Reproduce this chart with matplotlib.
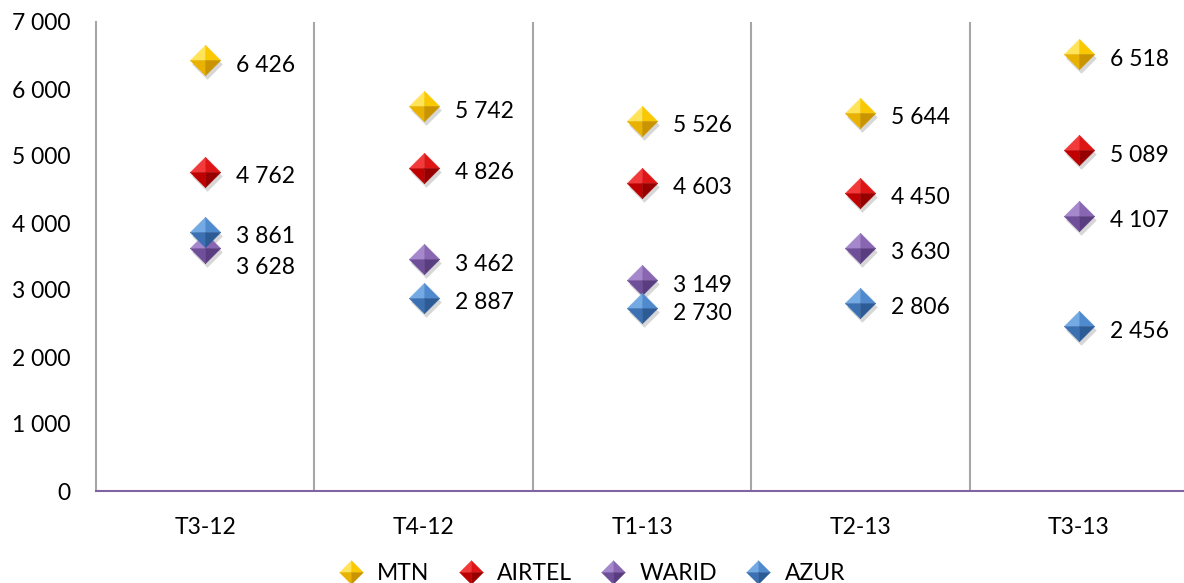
import matplotlib
matplotlib.use("Agg")
import matplotlib.pyplot as plt
from matplotlib.path import Path
from matplotlib.lines import Line2D
from matplotlib.legend_handler import HandlerTuple
import matplotlib.transforms as mtransforms

categories = ["T3-12", "T4-12", "T1-13", "T2-13", "T3-13"]
series_names = ["MTN", "AIRTEL", "WARID", "AZUR"]
mtn = [6426, 5742, 5526, 5644, 6518]
airtel = [4762, 4826, 4603, 4450, 5089]
warid = [3628, 3462, 3149, 3630, 4107]
azur = [3861, 2887, 2730, 2806, 2456]
yticks = [0, 1000, 2000, 3000, 4000, 5000, 6000, 7000]

series_values = [mtn, airtel, warid, azur]
# facet colours: top-left, top-right, bottom-left, bottom-right
facet_colors = [
    ["#FFE45A", "#FAC800", "#E9B200", "#C99400"],
    ["#F23A3A", "#DD1515", "#BE0000", "#960000"],
    ["#A587CC", "#8866B2", "#704F9A", "#5A3C80"],
    ["#74AAE4", "#4E8ACD", "#3B71B2", "#2C5B96"],
]
# vertical label offsets in pixels (label placement)
label_dy = {(0, 2): -20, (0, 3): -4}

FONT = "Lato"
FS = 16.5

facets = [
    Path([(0, 0), (-1, 0), (0, 1), (0, 0)]),
    Path([(0, 0), (0, 1), (1, 0), (0, 0)]),
    Path([(0, 0), (-1, 0), (0, -1), (0, 0)]),
    Path([(0, 0), (1, 0), (0, -1), (0, 0)]),
]
diamond = Path([(-1, 0), (0, 1), (1, 0), (0, -1), (-1, 0)])

fig = plt.figure(figsize=(11.84, 5.83), dpi=100)
ax = fig.add_axes([96 / 1184, 92 / 583, 1092 / 1184, 469 / 583])
ax.set_xlim(-0.5, 4.5)
ax.set_ylim(0, 7000)

x = list(range(len(categories)))
for b in [0.5, 1.5, 2.5, 3.5]:
    ax.vlines(b, 0, 7000, color="#A6A6A6", lw=1.5, zorder=1)

shadow_tr = ax.transData + mtransforms.ScaledTranslation(2 / 100, -4 / 100, fig.dpi_scale_trans)
MS = 22
for si, vals in enumerate(series_values):
    ax.plot(x, vals, ls="none", marker=diamond, ms=MS, mfc="#606060", mec="none",
            alpha=0.25, transform=shadow_tr, zorder=3)
    for fi, fp in enumerate(facets):
        ax.plot(x, vals, ls="none", marker=fp, ms=MS, mfc=facet_colors[si][fi],
                mec=facet_colors[si][fi], mew=0.3, zorder=4)
    for ci, v in enumerate(vals):
        dy = label_dy.get((ci, si), -5)
        tr = ax.transData + mtransforms.ScaledTranslation(31 / 100, dy / 100, fig.dpi_scale_trans)
        ax.text(ci, v, f"{v:,}".replace(",", " "), transform=tr, ha="left", va="center",
                fontsize=FS, family=FONT, color="black", zorder=5,
                bbox=dict(facecolor="white", edgecolor="none", pad=1.5))

for side in ["top", "right"]:
    ax.spines[side].set_visible(False)
ax.spines["left"].set_color("#A6A6A6")
ax.spines["left"].set_linewidth(1.5)
ax.spines["bottom"].set_color("#8064A2")
ax.spines["bottom"].set_linewidth(1.5)
ax.spines["left"].set_zorder(1)

ax.set_xticks(x)
ax.set_xticklabels(categories, fontsize=FS, family=FONT)
ax.set_yticks(yticks)
ax.set_yticklabels([f"{t:,}".replace(",", " ") for t in yticks], fontsize=FS, family=FONT)
ax.tick_params(axis="both", length=0)
ax.tick_params(axis="x", pad=19)
ax.tick_params(axis="y", pad=18)

handles = []
for si in range(4):
    parts = tuple(Line2D([], [], ls="none", marker=facets[fi], ms=17,
                         mfc=facet_colors[si][fi], mec=facet_colors[si][fi], mew=0.3)
                  for fi in range(4))
    handles.append(parts)
fig.legend(handles, series_names, loc="center", bbox_to_anchor=(591 / 1184, 9 / 583),
           ncol=4, frameon=False, handler_map={tuple: HandlerTuple(ndivide=1)},
           prop={"family": FONT, "size": FS}, handlelength=1.2, handletextpad=0.55,
           columnspacing=1.2, borderaxespad=0, borderpad=0)

fig.savefig("out.png", dpi=100)
